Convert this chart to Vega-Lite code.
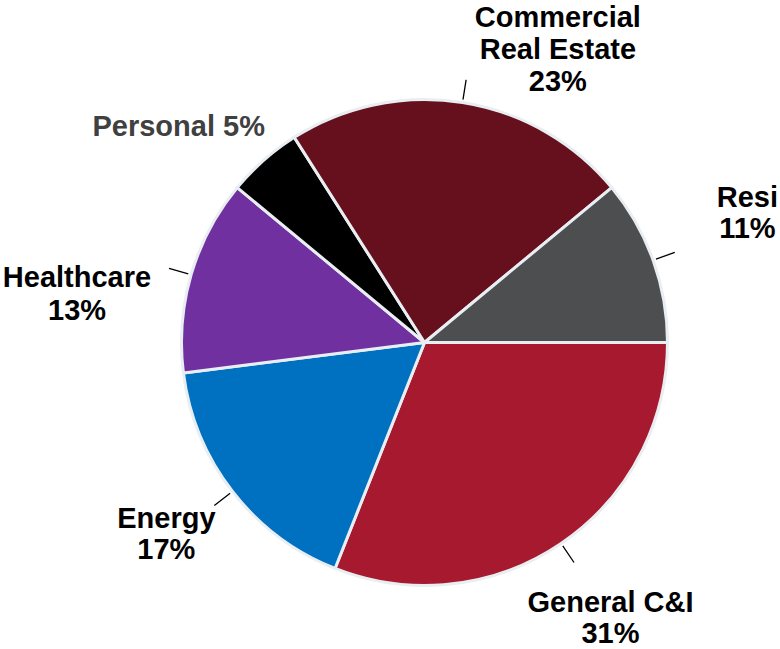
{
  "$schema": "https://vega.github.io/schema/vega-lite/v6.json",
  "width": 711,
  "height": 613,
  "autosize": {"type": "none"},
  "padding": {"left": 69, "top": 36, "right": 0, "bottom": 0},
  "background": "white",
  "config": {"view": {"stroke": null}},
  "data": {
    "values": [
      {"category": "General C&I", "value": 31, "label": "General C&I\n31%", "i": 1},
      {"category": "Energy", "value": 17, "label": "Energy\n17%", "i": 2},
      {"category": "Healthcare", "value": 13, "label": "Healthcare\n13%", "i": 3},
      {"category": "Personal", "value": 5, "label": "Personal 5%", "i": 4},
      {"category": "Commercial Real Estate", "value": 23, "label": "Commercial\nReal Estate\n23%", "i": 5},
      {"category": "Resi", "value": 11, "label": "Resi\n11%", "i": 6}
    ]
  },
  "transform": [
    {"stack": "value", "groupby": [], "sort": [{"field": "i", "order": "ascending"}], "as": ["s0", "s1"]},
    {"calculate": "(datum.s0 + datum.s1) / 2", "as": "mid"}
  ],
  "layer": [
    {
      "mark": {"type": "arc", "outerRadius": 243, "stroke": "#E9EEF3", "strokeWidth": 3},
      "encoding": {
        "theta": {"field": "s0", "type": "quantitative", "scale": {"domain": [0, 100], "range": [1.5707963, 7.8539816]}},
        "theta2": {"field": "s1"},
        "color": {
          "field": "category", "type": "nominal", "legend": null,
          "scale": {
            "domain": ["General C&I", "Energy", "Healthcare", "Personal", "Commercial Real Estate", "Resi"],
            "range": ["#A6192E", "#0070C0", "#7030A0", "#000000", "#65101C", "#4D4E50"]
          }
        }
      }
    },
    {
      "transform": [{"filter": "datum.category != 'Personal'"}],
      "mark": {"type": "arc", "innerRadius": 246, "outerRadius": 266, "fill": "transparent", "stroke": "#000000", "strokeWidth": 1.3},
      "encoding": {
        "theta": {"field": "mid", "type": "quantitative"},
        "theta2": {"field": "mid"}
      }
    },
    {
      "transform": [{"filter": "datum.category == 'General C&I'"}],
      "mark": {"type": "text", "font": "Liberation Sans", "fontWeight": "bold", "fontSize": 29, "lineHeight": 31, "lineBreak": "\n", "align": "center", "baseline": "middle", "color": "#000000", "dx": 23, "dy": 21},
      "encoding": {"theta": {"field": "mid", "type": "quantitative"}, "radius": {"value": 290}, "text": {"field": "label"}}
    },
    {
      "transform": [{"filter": "datum.category == 'Energy'"}],
      "mark": {"type": "text", "font": "Liberation Sans", "fontWeight": "bold", "fontSize": 29, "lineHeight": 31, "lineBreak": "\n", "align": "center", "baseline": "middle", "color": "#000000", "dx": -29, "dy": -1},
      "encoding": {"theta": {"field": "mid", "type": "quantitative"}, "radius": {"value": 290}, "text": {"field": "label"}}
    },
    {
      "transform": [{"filter": "datum.category == 'Healthcare'"}],
      "mark": {"type": "text", "font": "Liberation Sans", "fontWeight": "bold", "fontSize": 29, "lineHeight": 33, "lineBreak": "\n", "align": "center", "baseline": "middle", "color": "#000000", "dx": -69, "dy": 16},
      "encoding": {"theta": {"field": "mid", "type": "quantitative"}, "radius": {"value": 290}, "text": {"field": "label"}}
    },
    {
      "transform": [{"filter": "datum.category == 'Personal'"}],
      "mark": {"type": "text", "font": "Liberation Sans", "fontWeight": "bold", "fontSize": 29, "lineBreak": "\n", "align": "center", "baseline": "middle", "color": "#404040", "dx": -54, "dy": 2},
      "encoding": {"theta": {"field": "mid", "type": "quantitative"}, "radius": {"value": 290}, "text": {"field": "label"}}
    },
    {
      "transform": [{"filter": "datum.category == 'Commercial Real Estate'"}],
      "mark": {"type": "text", "font": "Liberation Sans", "fontWeight": "bold", "fontSize": 29, "lineHeight": 32, "lineBreak": "\n", "align": "center", "baseline": "middle", "color": "#000000", "dx": 88, "dy": -38},
      "encoding": {"theta": {"field": "mid", "type": "quantitative"}, "radius": {"value": 290}, "text": {"field": "label"}}
    },
    {
      "transform": [{"filter": "datum.category == 'Resi'"}],
      "mark": {"type": "text", "font": "Liberation Sans", "fontWeight": "bold", "fontSize": 29, "lineHeight": 31, "lineBreak": "\n", "align": "center", "baseline": "middle", "color": "#000000", "dx": 50, "dy": -46},
      "encoding": {"theta": {"field": "mid", "type": "quantitative"}, "radius": {"value": 290}, "text": {"field": "label"}}
    }
  ]
}
